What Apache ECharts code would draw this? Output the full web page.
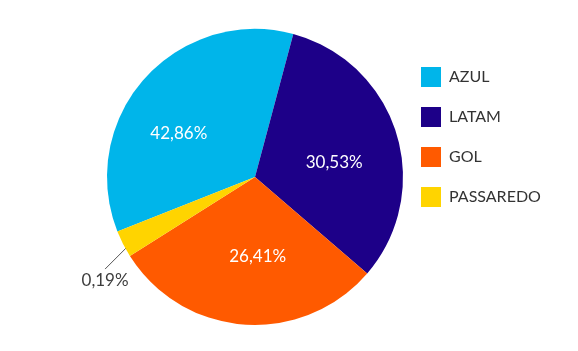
<!DOCTYPE html>
<html>
<head>
<meta charset="utf-8">
<script src="https://cdn.jsdelivr.net/npm/echarts@6/dist/echarts.min.js"></script>
<style>
  html, body { margin: 0; padding: 0; background: #fff; }
  #chart { width: 578px; height: 351px; }
</style>
</head>
<body>
<div id="chart"></div>
<script>
// companhias (ordem da legenda)
var companhias = ['AZUL', 'LATAM', 'GOL', 'PASSAREDO'];
// fatia de cada uma como aparece no desenho (graus estimados do círculo)
var fatias = [126.6, 115.7, 107.0, 10.7];
// rótulos impressos nas fatias
var rotulos = ['42,86%', '30,53%', '26,41%', '0,19%'];
var cores = ['#00b5ea', '#1d0088', '#ff5a00', '#ffd400'];

var chart = echarts.init(document.getElementById('chart'));

var dadosPizza = companhias.map(function (nome, i) {
    var item = { name: nome, value: fatias[i], itemStyle: { color: cores[i] } };
    if (i === 3) {
        // passaredo: rótulo fora, com linha
        item.label = { show: true, position: 'outside', color: '#3d3d3d' };
        item.labelLine = { show: true, length: 10, length2: 0, lineStyle: { color: '#555', width: 1 } };
    } else {
        item.label = { show: false };
        item.labelLine = { show: false };
    }
    return item;
});

// camada só com os rótulos internos (raio maior p/ empurrar o texto pra fora)
var dadosRotulos = companhias.map(function (nome, i) {
    return {
        name: nome,
        value: fatias[i],
        itemStyle: { color: 'rgba(0,0,0,0)' },
        label: { show: i !== 3 }
    };
});

// pequeno ajuste dos rótulos internos em relação ao meio da fatia
var ajusteRotulo = { 0: [-12, 14], 1: [-3, 11], 2: [9, -6] };

var option = {
    animation: false,
    textStyle: { fontFamily: 'Lato' },
    legend: {
        orient: 'vertical',
        left: 421,
        top: 67,
        padding: 0,
        itemWidth: 20,
        itemHeight: 20,
        itemGap: 20,
        icon: 'rect',
        selectedMode: false,
        textStyle: { fontFamily: 'Lato', fontSize: 16, color: '#333', padding: [0, 0, 0, 3] },
        data: companhias.map(function (nome, i) {
            return { name: nome, itemStyle: { color: cores[i] } };
        })
    },
    series: [
        {
            type: 'pie',
            center: [255, 177],
            radius: 148,
            startAngle: 201.6,
            clockwise: true,
            silent: true,
            avoidLabelOverlap: false,
            label: {
                formatter: function (p) { return rotulos[p.dataIndex]; },
                fontFamily: 'Lato',
                fontSize: 17
            },
            labelLayout: function (p) {
                if (p.dataIndex !== 3 || !p.labelLinePoints) return;
                var s = p.labelLinePoints[0];
                var a = [s[0] + 4, s[1] + 3];
                var e = [a[0] - 22, a[1] + 22];
                return {
                    x: e[0],
                    y: e[1] + 11,
                    align: 'center',
                    verticalAlign: 'middle',
                    labelLinePoints: [a, e, e]
                };
            },
            data: dadosPizza
        },
        {
            type: 'pie',
            center: [255, 177],
            radius: 166,
            startAngle: 201.6,
            clockwise: true,
            silent: true,
            z: 3,
            label: {
                position: 'inside',
                formatter: function (p) { return rotulos[p.dataIndex]; },
                color: '#fff',
                fontFamily: 'Lato',
                fontSize: 17
            },
            labelLayout: function (p) {
                var d = ajusteRotulo[p.dataIndex];
                if (!d) return;
                return { dx: d[0], dy: d[1] };
            },
            labelLine: { show: false },
            data: dadosRotulos
        }
    ]
};

chart.setOption(option);
</script>
</body>
</html>
